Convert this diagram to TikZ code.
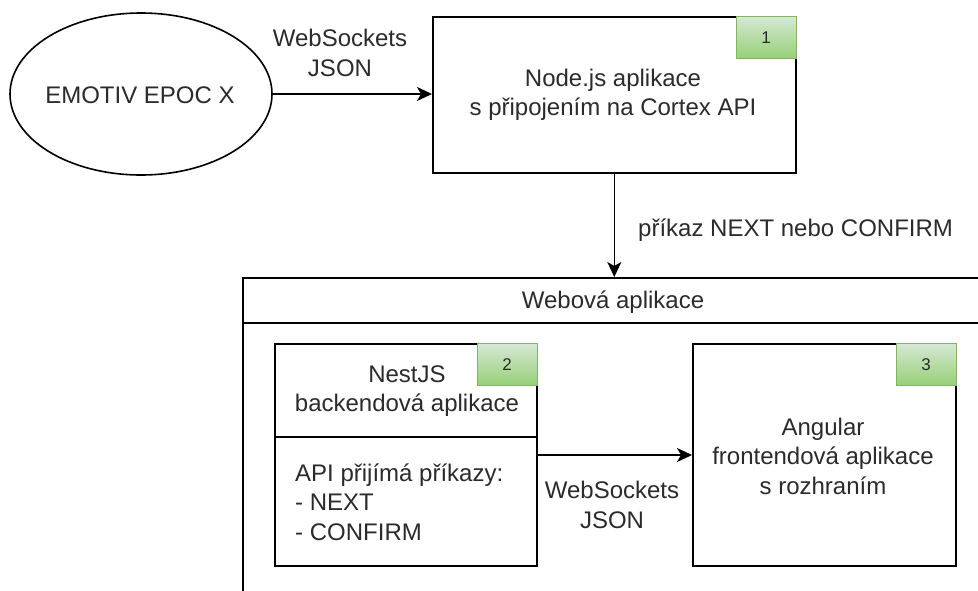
\documentclass[tikz,border=0pt]{standalone}
\usepackage{fontspec}
\setmainfont{Liberation Sans}
\usetikzlibrary{shapes.geometric,arrows.meta}
\definecolor{txt}{HTML}{2B2B2B}
\definecolor{gtop}{HTML}{D5E8D4}
\definecolor{gbot}{HTML}{97D077}
\definecolor{gline}{HTML}{82B366}
\tikzset{
  lw/.style={line width=1.6pt},
  boxn/.style={draw, lw, rectangle, inner sep=0pt, anchor=north west},
  lbl/.style={text=txt, inner sep=0pt, align=center, font=\fontsize{24}{29.5}\selectfont},
  badge/.style={draw=gline, line width=1pt, top color=gtop, bottom color=gbot, anchor=north east,
     minimum width=60pt, minimum height=42pt, inner sep=0pt, text=txt, font=\fontsize{17}{17}\selectfont},
  arr/.style={lw, -{Stealth[length=15pt,width=14pt,inset=4pt]}},
}
\begin{document}
\begin{tikzpicture}[x=1pt,y=-1pt]
\useasboundingbox (0,0) rectangle (978,590);
\clip (0,0) rectangle (978,590);
\fill[white] (0,0) rectangle (978,590);
% EMOTIV
\node (emotiv) [draw, lw, ellipse, minimum width=262pt, minimum height=162pt, inner sep=0pt] at (141,94) {};
\node (emotivt) [lbl] at (140,95) {EMOTIV EPOC X};
% Node.js box
\node (nodejs) [boxn, minimum width=363pt, minimum height=156pt] at (432,16) {};
\node (b1) [badge] at (nodejs.north east) {1};
\node (nodejst) [lbl] at (613,95) {Node.js aplikace\\s připojením na Cortex API};
\draw[arr] (emotiv.east) -- (nodejs.west |- emotiv.east);
\node (l1) [lbl] at (340,53) {WebSockets\\JSON};
% container
\node (web) [boxn, minimum width=760pt, minimum height=420pt] at (242,277) {};
\coordinate (hdr) at (242,323);
\draw[lw] (hdr) -- (hdr -| web.east);
\node (webt) [lbl] at (613,302) {Webová aplikace};
\draw[arr] (nodejs.south) -- (nodejs.south |- web.north);
\node (l2) [lbl, anchor=west] at (638,230) {příkaz NEXT nebo CONFIRM};
% NestJS
\node (nest) [boxn, minimum width=262pt, minimum height=222pt] at (274,343) {};
\coordinate (div) at (274,437);
\draw[lw] (div) -- (div -| nest.east);
\node (b2) [badge] at (nest.north east) {2};
\node (nestt) [lbl] at (407,391) {NestJS\\backendová aplikace};
\node (nestb) [lbl, align=left, anchor=west] at (295,502) {API přijímá příkazy:\\- NEXT\\- CONFIRM};
% Angular
\node (ang) [boxn, minimum width=263pt, minimum height=222pt] at (692,343) {};
\node (b3) [badge] at (ang.north east) {3};
\node (angt) [lbl] at (823,456) {Angular\\frontendová aplikace\\s rozhraním};
\coordinate (a2) at (536,455);
\draw[arr] (nest.east |- a2) -- (ang.west |- a2);
\node (l3) [lbl] at (612,505) {WebSockets\\JSON};
\end{tikzpicture}
\end{document}
